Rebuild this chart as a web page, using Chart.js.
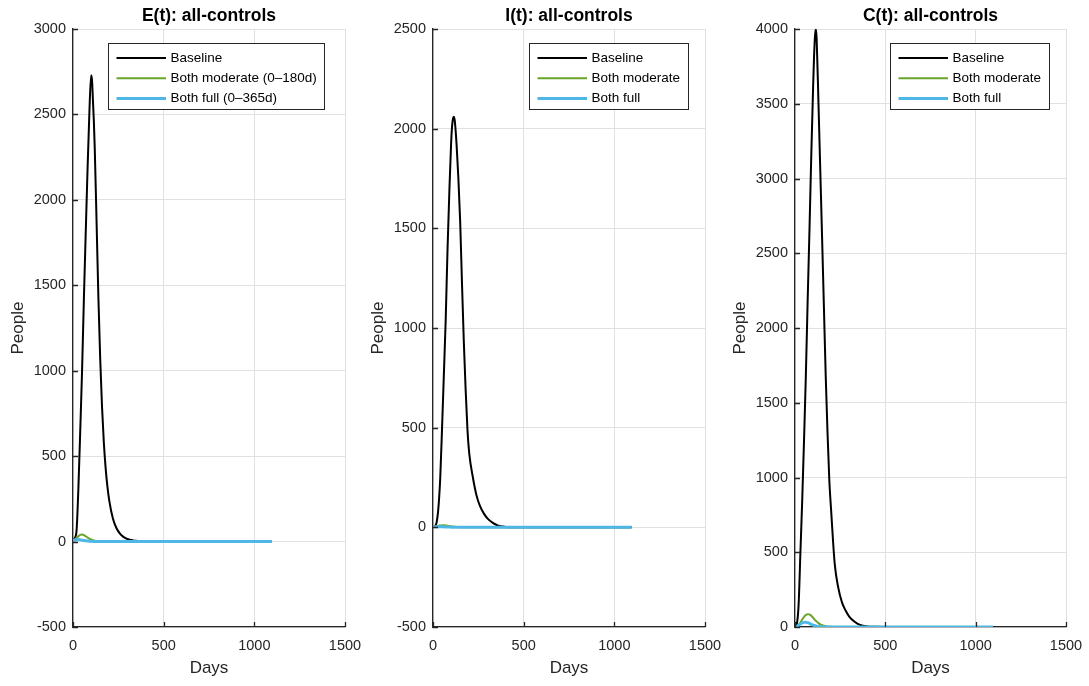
<!DOCTYPE html>
<html>
<head>
<meta charset="utf-8">
<title>all-controls</title>
<script src="https://cdn.jsdelivr.net/npm/chart.js@4.4.1/dist/chart.umd.min.js"></script>
<style>
  html, body { margin: 0; padding: 0; background: #fff; }
  #wrap { position: relative; width: 1089px; height: 686px; overflow: hidden; }
  .panel { position: absolute; top: 0; height: 686px; }
</style>
</head>
<body>
<div id="wrap">
  <div class="panel" style="left:0;width:380px"><canvas id="chart-e"></canvas></div>
  <div class="panel" style="left:355px;width:380px"><canvas id="chart-i"></canvas></div>
  <div class="panel" style="left:715px;width:374px"><canvas id="chart-c"></canvas></div>
</div>
<script>
// Sampled days shared by all series
const DAYS = [0, 10, 20, 30, 40, 50, 60, 70, 80, 90, 100, 105, 110, 115, 120, 130, 140, 150, 160, 170,
    180, 190, 200, 220, 240, 260, 280, 300, 330, 360, 400, 450, 500, 600, 800, 1000, 1095];

// E(t)
const E_BASELINE = [5, 20, 70, 320, 650, 1000, 1420, 1800, 2170, 2500, 2730, 2700, 2580, 2460, 2300, 1870, 1430, 1070, 790, 580,
    430, 320, 240, 135, 78, 45, 26, 15, 7, 3, 1, 0, 0, 0, 0, 0, 0];
const E_MODERATE = [5, 12, 22, 32, 39, 41, 38, 31, 24, 17, 12, 10, 8, 6.5, 5, 3.5, 2, 1.5, 1, 0.5,
    0.3, 0.2, 0.1, 0, 0, 0, 0, 0, 0, 0, 0, 0, 0, 0, 0, 0, 0];
const E_FULL = [5, 9, 11, 12, 10, 8, 6, 4.5, 3, 2, 1.5, 1.2, 1, 0.8, 0.7, 0.5, 0.3, 0.2, 0.1, 0,
    0, 0, 0, 0, 0, 0, 0, 0, 0, 0, 0, 0, 0, 0, 0, 0, 0];

// I(t)
const I_BASELINE = [2, 5, 25, 100, 250, 500, 770, 1040, 1390, 1680, 1930, 2010, 2050, 2060, 2040, 1920, 1750, 1530, 1220, 930,
    690, 490, 370, 250, 160, 105, 70, 45, 22, 8, 2, 0.5, 0, 0, 0, 0, 0];
const I_MODERATE = [2, 4, 6, 8, 9, 10, 10, 9, 8, 6.5, 5, 4.5, 4, 3.5, 3, 2.3, 1.7, 1.2, 0.9, 0.6,
    0.4, 0.3, 0.2, 0.1, 0, 0, 0, 0, 0, 0, 0, 0, 0, 0, 0, 0, 0];
const I_FULL = [2, 2.5, 3, 3, 3, 2.8, 2.5, 2, 1.6, 1.3, 1, 0.9, 0.8, 0.7, 0.6, 0.5, 0.4, 0.3, 0.2, 0.1,
    0.1, 0, 0, 0, 0, 0, 0, 0, 0, 0, 0, 0, 0, 0, 0, 0, 0];

// C(t)
const C_BASELINE = [0, 20, 150, 500, 850, 1250, 1680, 2180, 2650, 3150, 3600, 3800, 3940, 4000, 3930, 3500, 3050, 2600, 2140, 1680,
    1300, 980, 780, 420, 260, 165, 110, 70, 35, 14, 4, 1, 0, 0, 0, 0, 0];
const C_MODERATE = [0, 5, 15, 30, 50, 68, 80, 86, 84, 75, 62, 55, 48, 42, 36, 26, 18, 12, 8, 5,
    3, 2, 1, 0.5, 0, 0, 0, 0, 0, 0, 0, 0, 0, 0, 0, 0, 0];
const C_FULL = [0, 5, 12, 20, 27, 31, 32, 29, 24, 18, 13, 11, 9, 7.5, 6, 4, 2.5, 1.5, 1, 0.5,
    0.3, 0.2, 0, 0, 0, 0, 0, 0, 0, 0, 0, 0, 0, 0, 0, 0, 0];

// Tick labels
const X_TICKS = [0, 500, 1000, 1500];
const E_TICKS = [-500, 0, 500, 1000, 1500, 2000, 2500, 3000];
const I_TICKS = [-500, 0, 500, 1000, 1500, 2000, 2500];
const C_TICKS = [0, 500, 1000, 1500, 2000, 2500, 3000, 3500, 4000];

const FONT = '"Liberation Sans", Arial, Helvetica, sans-serif';
const AXIS_COLOR = '#262626';
const GRID_COLOR = '#e0e0e0';
const COLORS = { baseline: '#000000', moderate: '#6aa42a', full: '#4db8e8' };

// MATLAB style inward tick marks on the left and bottom axes
const inwardTicks = {
    id: 'inwardTicks',
    afterDatasetsDraw(chart) {
        const ctx = chart.ctx;
        const xs = chart.scales.x, ys = chart.scales.y;
        const area = chart.chartArea;
        ctx.save();
        ctx.strokeStyle = AXIS_COLOR;
        ctx.lineWidth = 1.3;
        ctx.beginPath();
        xs.ticks.forEach(t => {
            const px = Math.round(xs.getPixelForValue(t.value)) + 0.5;
            ctx.moveTo(px, area.bottom);
            ctx.lineTo(px, area.bottom - 5);
        });
        ys.ticks.forEach(t => {
            const py = Math.round(ys.getPixelForValue(t.value)) + 0.5;
            ctx.moveTo(area.left, py);
            ctx.lineTo(area.left + 5, py);
        });
        ctx.stroke();
        ctx.restore();
    }
};

// Boxed legend drawn inside the plot area
const insideLegend = {
    id: 'insideLegend',
    afterDraw(chart, args, opts) {
        const ctx = chart.ctx;
        const area = chart.chartArea;
        const sets = chart.data.datasets;
        ctx.save();
        ctx.font = '13.5px ' + FONT;
        const textW = Math.max(...sets.map(d => ctx.measureText(d.label).width));
        const x = Math.round(area.left + opts.left) + 0.5;
        const y = Math.round(area.top + 14) + 0.5;
        const w = Math.round(8.5 + 49.5 + 5 + textW + 7);
        const h = 66;
        ctx.fillStyle = '#fff';
        ctx.fillRect(x, y, w, h);
        ctx.strokeStyle = AXIS_COLOR;
        ctx.lineWidth = 1;
        ctx.strokeRect(x, y, w, h);
        ctx.textBaseline = 'middle';
        ctx.textAlign = 'left';
        sets.forEach((d, i) => {
            const cy = y + 14.5 + i * 20.2;
            ctx.strokeStyle = d.borderColor;
            ctx.lineWidth = d.borderWidth;
            ctx.beginPath();
            ctx.moveTo(x + 8, cy);
            ctx.lineTo(x + 57.5, cy);
            ctx.stroke();
            ctx.fillStyle = '#000';
            ctx.fillText(d.label, x + 62, cy);
        });
        ctx.restore();
    }
};

function series(label, values, color, width, order) {
    return {
        label: label,
        data: DAYS.map((d, i) => ({ x: d, y: values[i] })),
        borderColor: color,
        backgroundColor: color,
        borderWidth: width,
        pointRadius: 0,
        cubicInterpolationMode: 'monotone',
        order: order,
        fill: false
    };
}

function makePanel(id, opts) {
    const canvas = document.getElementById(id);
    return new Chart(canvas, {
        type: 'line',
        data: {
            datasets: [
                series('Baseline', opts.baseline, COLORS.baseline, 2, 2),
                series(opts.modLabel, opts.moderate, COLORS.moderate, 2, 1),
                series(opts.fullLabel, opts.full, COLORS.full, 3, 0)
            ]
        },
        options: {
            responsive: true,
            maintainAspectRatio: false,
            animation: false,
            events: [],
            layout: { padding: { left: 0, right: opts.padRight, top: 0, bottom: 0 } },
            plugins: {
                legend: { display: false },
                tooltip: { enabled: false },
                title: {
                    display: true,
                    text: opts.title,
                    fullSize: false,
                    color: '#000',
                    font: { family: FONT, size: 17.5, weight: 'bold' },
                    padding: { top: 6, bottom: 2 }
                },
                insideLegend: { left: opts.legendLeft }
            },
            scales: {
                x: {
                    type: 'linear',
                    min: 0,
                    max: 1500,
                    afterBuildTicks: s => { s.ticks = X_TICKS.map(v => ({ value: v })); },
                    afterFit: s => { s.height = 59; s.paddingLeft = 0; s.paddingRight = 0; },
                    grid: { color: GRID_COLOR, drawTicks: false, lineWidth: 1 },
                    border: { display: true, color: AXIS_COLOR, width: 1.3 },
                    ticks: {
                        color: AXIS_COLOR,
                        padding: 10,
                        maxRotation: 0,
                        font: { family: FONT, size: 14.5 },
                        callback: v => String(v)
                    },
                    title: {
                        display: true,
                        text: 'Days',
                        color: AXIS_COLOR,
                        font: { family: FONT, size: 17 },
                        padding: { top: 0, bottom: 7 }
                    }
                },
                y: {
                    type: 'linear',
                    min: opts.yTicks[0],
                    max: opts.yTicks[opts.yTicks.length - 1],
                    afterBuildTicks: s => { s.ticks = opts.yTicks.map(v => ({ value: v })); },
                    afterFit: s => { s.width = opts.yWidth; },
                    grid: { color: GRID_COLOR, drawTicks: false, lineWidth: 1 },
                    border: { display: true, color: AXIS_COLOR, width: 1.3 },
                    ticks: {
                        color: AXIS_COLOR,
                        padding: 7,
                        font: { family: FONT, size: 14.5 },
                        callback: v => String(v)
                    },
                    title: {
                        display: true,
                        text: 'People',
                        color: AXIS_COLOR,
                        font: { family: FONT, size: 17 },
                        padding: { top: opts.yTitlePad, bottom: 0 }
                    }
                }
            }
        },
        plugins: [inwardTicks, insideLegend]
    });
}

makePanel('chart-e', {
    title: 'E(t): all-controls',
    baseline: E_BASELINE, moderate: E_MODERATE, full: E_FULL,
    modLabel: 'Both moderate (0\u2013180d)', fullLabel: 'Both full (0\u2013365d)',
    yTicks: E_TICKS, yWidth: 73, padRight: 35, yTitlePad: 8, legendLeft: 34.5
});
makePanel('chart-i', {
    title: 'I(t): all-controls',
    baseline: I_BASELINE, moderate: I_MODERATE, full: I_FULL,
    modLabel: 'Both moderate', fullLabel: 'Both full',
    yTicks: I_TICKS, yWidth: 78, padRight: 30, yTitlePad: 13, legendLeft: 96
});
makePanel('chart-c', {
    title: 'C(t): all-controls',
    baseline: C_BASELINE, moderate: C_MODERATE, full: C_FULL,
    modLabel: 'Both moderate', fullLabel: 'Both full',
    yTicks: C_TICKS, yWidth: 80, padRight: 23, yTitlePad: 15, legendLeft: 95
});
</script>
</body>
</html>
